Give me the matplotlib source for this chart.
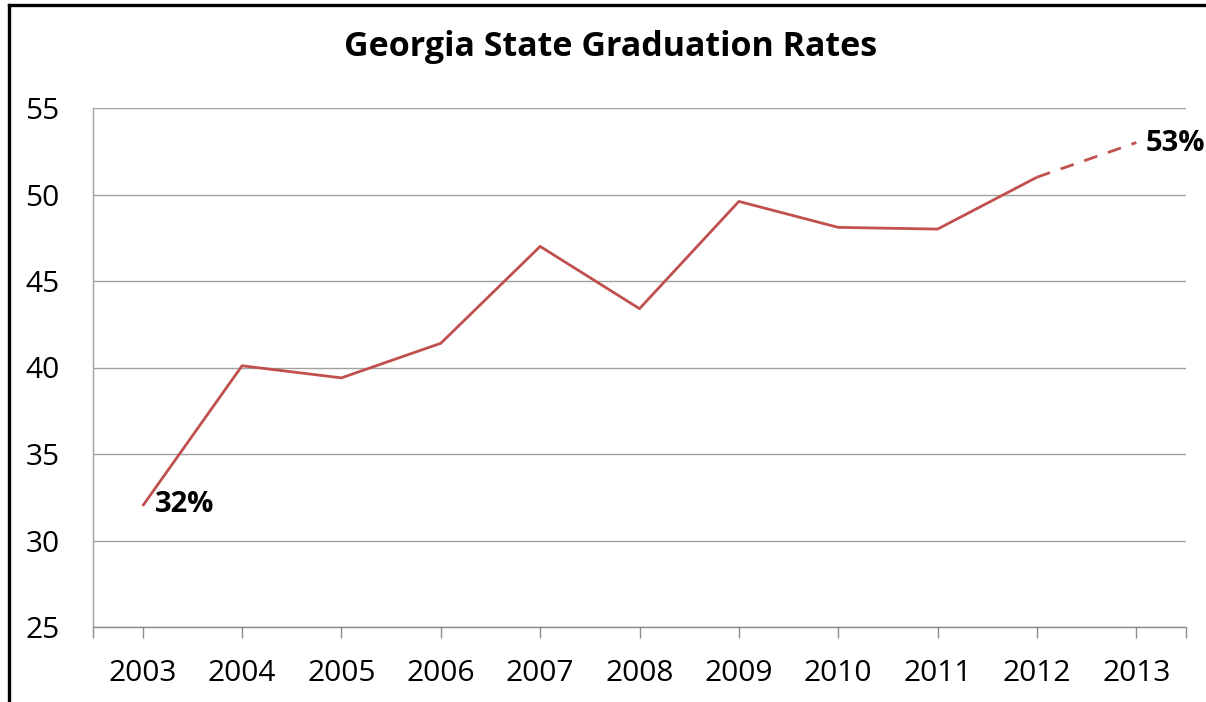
import matplotlib
matplotlib.use("Agg")
import matplotlib.pyplot as plt
from matplotlib.lines import Line2D

years = ["2003", "2004", "2005", "2006", "2007", "2008", "2009", "2010", "2011", "2012", "2013"]
rates = [32.0, 40.1, 39.4, 41.4, 47.0, 43.4, 49.6, 48.1, 48.0, 51.0, 53.0]
y_ticks = [25, 30, 35, 40, 45, 50, 55]
title = "Georgia State Graduation Rates"

plt.rcParams['font.family'] = ['Open Sans', 'DejaVu Sans']

W, H = 1206, 702
fig = plt.figure(figsize=(W / 100, H / 100), dpi=100)
ax = fig.add_axes([93 / W, (H - 627) / H, (1186 - 93) / W, (627 - 108) / H])

color = "#C0504D"
x = list(range(len(years)))
ax.plot(x[:-1], rates[:-1], color=color, lw=2.0, solid_capstyle="butt")
ax.plot(x[-2:], rates[-2:], color=color, lw=2.0, linestyle=(0, (5, 4)))

ax.set_xlim(-0.5, len(years) - 0.5)
ax.set_ylim(y_ticks[0], y_ticks[-1])
ax.set_yticks(y_ticks)
ax.set_xticks(x)
ax.set_xticklabels(years)
ax.set_xticks([-0.5, len(years) - 0.5], minor=True)

ax.grid(axis="y", color="#A0A0A0", lw=1.0)
ax.set_axisbelow(True)
for s in ["top", "right"]:
    ax.spines[s].set_visible(False)
ax.spines["left"].set_color("#A0A0A0")
ax.spines["bottom"].set_color("#8C8C8C")
ax.spines["left"].set_linewidth(1.0)
ax.spines["bottom"].set_linewidth(1.0)

ax.tick_params(axis="x", which="both", direction="out", length=8, color="#8C8C8C",
               width=1.0, labelsize=21.5, pad=15)
ax.tick_params(axis="y", length=0, labelsize=21.5, pad=24)

ax.annotate(f"{rates[0]:.0f}%", (x[0], rates[0]), xytext=(8.5, 1), textcoords="offset points",
            fontsize=21, fontweight="bold", ha="left", va="center")
ax.annotate(f"{rates[-1]:.0f}%", (x[-1], rates[-1]), xytext=(6.5, -1), textcoords="offset points",
            fontsize=21, fontweight="bold", ha="left", va="center", annotation_clip=False)

fig.text(611 / W, 1 - 47 / H, title, ha="center", va="center", fontsize=24.5, fontweight="bold")

# outer frame (left and top)
fig.add_artist(Line2D([8.5 / W, 8.5 / W], [0, 1 - 5 / H], color="black", lw=2.4,
                      transform=fig.transFigure, solid_capstyle="projecting"))
fig.add_artist(Line2D([8.5 / W, 1], [1 - 5 / H, 1 - 5 / H], color="black", lw=2.4,
                      transform=fig.transFigure, solid_capstyle="projecting"))

fig.savefig("out.png", dpi=100)
